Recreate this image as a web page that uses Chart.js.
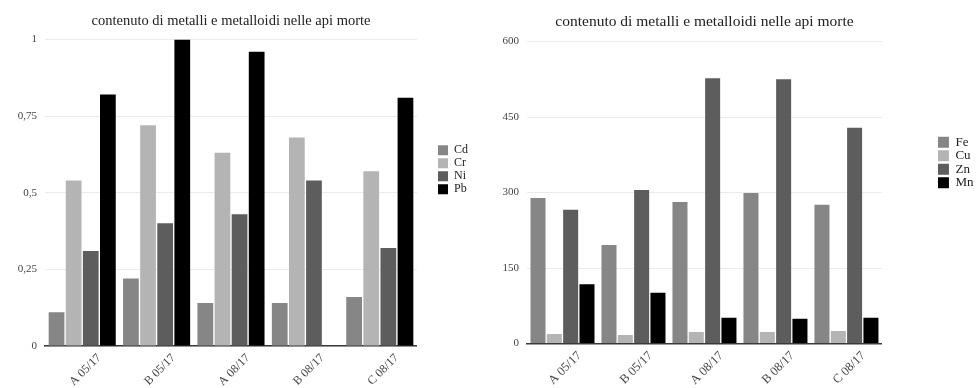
<!DOCTYPE html>
<html lang="it">
<head>
    <meta charset="UTF-8">
    <script src="https://cdn.jsdelivr.net/npm/chart.js"></script>
    <title>contenuto di metalli e metalloidi nelle api morte</title>
    <style>
        body { margin: 0; background: #fff; }
        .box { position: absolute; top: 0; height: 388px; }
        #left { left: 0; width: 485px; }
        #right { left: 490px; width: 489px; }
    </style>
</head>
<body>
    <div class="box" id="left"><canvas id="chartA"></canvas></div>
    <div class="box" id="right"><canvas id="chartB"></canvas></div>

    <script>
        // campioni
        const categories = ['A 05/17', 'B 05/17', 'A 08/17', 'B 08/17', 'C 08/17'];

        // grafico 1 (metalli in tracce)
        const cd = [0.11, 0.22, 0.14, 0.14, 0.16];
        const cr = [0.54, 0.72, 0.63, 0.68, 0.57];
        const ni = [0.31, 0.40, 0.43, 0.54, 0.32];
        const pb = [0.82, 1.00, 0.96, null, 0.81];
        const ticksA = [0, 0.25, 0.5, 0.75, 1];

        // grafico 2
        const fe = [289, 196, 281, 299, 276];
        const cu = [19, 17, 23, 23, 25];
        const zn = [266, 305, 527, 525, 429];
        const mn = [118, 101, 51, 49, 51];
        const ticksB = [0, 150, 300, 450, 600];

        const titolo = 'contenuto di metalli e metalloidi nelle api morte';
        const grigi = ['#868686', '#b4b4b4', '#5d5d5d', '#000000'];

        Chart.defaults.font.family = '"Liberation Serif", "DejaVu Serif", serif';
        Chart.defaults.color = '#444';

        // sposta la legenda dopo il layout
        function spostaLegenda(dx, dy) {
            return {
                id: 'spostaLegenda',
                afterUpdate(chart) {
                    const lg = chart.legend;
                    lg.left += dx; lg.right += dx;
                    lg.top += dy; lg.bottom += dy;
                }
            };
        }

        function creaGrafico(id, nomi, serie, ticks, c) {
            const ctx = document.getElementById(id).getContext('2d');
            return new Chart(ctx, {
                type: 'bar',
                data: {
                    labels: categories,
                    datasets: serie.map((s, i) => ({
                        label: nomi[i],
                        data: s,
                        backgroundColor: grigi[i],
                        borderWidth: 0,
                        categoryPercentage: 0.92,
                        barPercentage: 0.92
                    }))
                },
                options: {
                    responsive: true,
                    maintainAspectRatio: false,
                    animation: false,
                    layout: { padding: { top: c.padTop, right: c.padRight, bottom: 0, left: 0 } },
                    plugins: {
                        title: {
                            display: true,
                            text: titolo,
                            fullSize: false,
                            color: '#222',
                            font: { size: c.titleSize, weight: 'normal' },
                            padding: { top: 8, bottom: 10 }
                        },
                        legend: {
                            position: 'right',
                            fullSize: false,
                            labels: {
                                boxWidth: c.box,
                                boxHeight: c.box,
                                padding: c.legPad,
                                color: '#222',
                                font: { size: c.legSize }
                            }
                        },
                        tooltip: { enabled: false }
                    },
                    scales: {
                        x: {
                            afterFit(scale) { scale.height = c.xHeight; },
                            grid: { display: false, drawTicks: false },
                            border: { display: true, color: '#3a3a3a', width: 1.5 },
                            ticks: {
                                maxRotation: 45,
                                minRotation: 45,
                                padding: 5,
                                labelOffset: c.labOff,
                                font: { size: c.xSize },
                                color: '#444'
                            }
                        },
                        y: {
                            min: ticks[0],
                            max: ticks[ticks.length - 1],
                            afterFit(scale) { scale.width = c.yWidth; },
                            afterBuildTicks(scale) { scale.ticks = ticks.map(v => ({ value: v })); },
                            border: { display: false },
                            grid: { color: '#ebebeb', drawTicks: false },
                            ticks: {
                                padding: 8,
                                font: { size: 11 },
                                color: '#444',
                                callback: v => String(v).replace('.', ',')
                            }
                        }
                    }
                },
                plugins: [spostaLegenda(c.dx, c.dy)]
            });
        }

        creaGrafico('chartA', ['Cd', 'Cr', 'Ni', 'Pb'], [cd, cr, ni, pb], ticksA, {
            yWidth: 45, xHeight: 42, padTop: 4, padRight: 27, titleSize: 14.5,
            box: 10, legPad: 1, legSize: 12, dx: 20, dy: -23, xSize: 12, labOff: 17
        });
        creaGrafico('chartB', ['Fe', 'Cu', 'Zn', 'Mn'], [fe, cu, zn, mn], ticksB, {
            yWidth: 37, xHeight: 44.5, padTop: 5, padRight: 51, titleSize: 15.5,
            box: 11, legPad: 0.5, legSize: 13, dx: 55.5, dy: -30, xSize: 12.5, labOff: 17
        });
    </script>
</body>
</html>
